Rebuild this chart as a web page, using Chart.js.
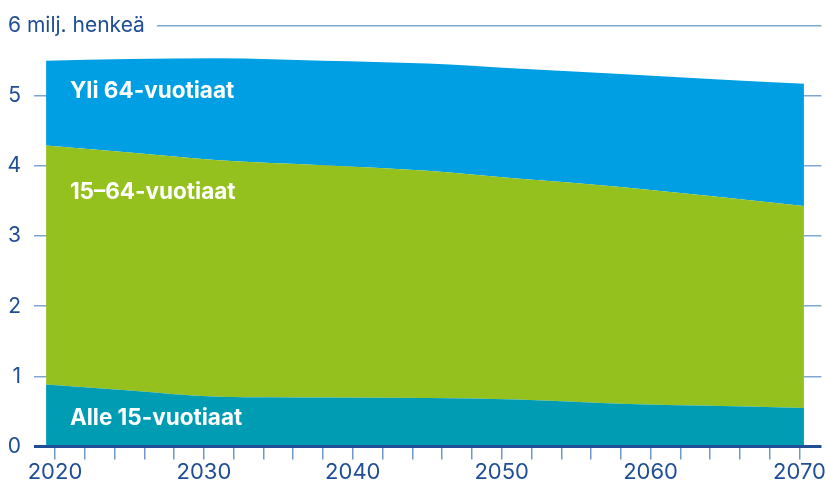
<!DOCTYPE html>
<html>
<head>
<meta charset="utf-8">
<script src="https://cdn.jsdelivr.net/npm/chart.js@4/dist/chart.umd.min.js"></script>
<style>
  html, body { margin: 0; padding: 0; background: #fff; }
  #wrap { width: 826px; height: 488px; position: relative; }
</style>
</head>
<body>
<div id="wrap"><canvas id="vaestoChart"></canvas></div>
<script>
// Väestö ikäryhmittäin, milj. henkeä (luettu kuvasta)
const vuodet = [2019.4, 2025, 2031, 2038, 2045, 2051, 2058, 2064, 2070.3];
const alle15 = [0.885, 0.80, 0.71, 0.70, 0.69, 0.67, 0.61, 0.58, 0.55];
const tyoikaiset = [3.405, 3.39, 3.37, 3.31, 3.24, 3.15, 3.09, 2.99, 2.88];
const yli64 = [1.21, 1.335, 1.455, 1.49, 1.53, 1.57, 1.61, 1.67, 1.74];

const sarjaNimet = ['Alle 15-vuotiaat', '15–64-vuotiaat', 'Yli 64-vuotiaat'];
const xTicks = [2020, 2022, 2024, 2026, 2028, 2030, 2032, 2034, 2036, 2038, 2040, 2042, 2044, 2046, 2048,
                2050, 2052, 2054, 2056, 2058, 2060, 2062, 2064, 2066, 2068, 2070];
const yTicks = [0, 1, 2, 3, 4, 5, 6];
const yksikko = '6 milj. henkeä';

const tummaSininen = '#1f4e96';
const fontti = 'Inter, "Noto Sans", sans-serif';

function pisteet(arvot) {
    return vuodet.map((v, i) => ({ x: v, y: arvot[i] }));
}

// sarjojen nimet alueiden sisään, y-akselin yksikkö ja perusviiva
const tekstit = {
    id: 'tekstit',
    beforeDatasetsDraw(chart) {
        const ctx = chart.ctx;
        const y = chart.scales.y;
        ctx.save();
        ctx.font = '21px ' + fontti;
        const w = ctx.measureText(yksikko).width;
        ctx.fillStyle = '#fff';
        ctx.fillRect(0, y.getPixelForValue(6) - 6, 8 + w + 12, 12);
        ctx.fillStyle = tummaSininen;
        ctx.textAlign = 'left';
        ctx.textBaseline = 'middle';
        ctx.fillText(yksikko, 8, y.getPixelForValue(6));
        ctx.restore();
    },
    afterDatasetsDraw(chart) {
        const ctx = chart.ctx;
        const x = chart.scales.x;
        const y = chart.scales.y;
        const area = chart.chartArea;
        ctx.save();
        // perusviiva
        ctx.strokeStyle = tummaSininen;
        ctx.lineWidth = 3;
        ctx.beginPath();
        ctx.moveTo(area.left, y.getPixelForValue(0));
        ctx.lineTo(area.right, y.getPixelForValue(0));
        ctx.stroke();

        const paikat = [0.40, 3.62, 5.06];
        ctx.font = 'bold 22.5px ' + fontti;
        ctx.fillStyle = '#fff';
        ctx.textAlign = 'left';
        ctx.textBaseline = 'middle';
        sarjaNimet.forEach((n, i) => {
            ctx.fillText(n, x.getPixelForValue(2021), y.getPixelForValue(paikat[i]));
        });
        ctx.restore();
    }
};

new Chart(document.getElementById('vaestoChart').getContext('2d'), {
    type: 'line',
    data: {
        datasets: [
            { label: sarjaNimet[0], data: pisteet(alle15), backgroundColor: '#009cb4', fill: 'origin' },
            { label: sarjaNimet[1], data: pisteet(tyoikaiset), backgroundColor: '#95c11f', fill: '-1' },
            { label: sarjaNimet[2], data: pisteet(yli64), backgroundColor: '#009fe3', fill: '-1' }
        ]
    },
    options: {
        responsive: true,
        maintainAspectRatio: false,
        animation: false,
        layout: { padding: { top: 23, right: 3, left: 0, bottom: 0 } },
        elements: {
            line: { borderWidth: 0, tension: 0.25, cubicInterpolationMode: 'monotone' },
            point: { radius: 0 }
        },
        plugins: {
            legend: { display: false },
            tooltip: { enabled: false }
        },
        scales: {
            x: {
                type: 'linear',
                min: 2018.59,
                max: 2071.47,
                afterBuildTicks: (axis) => { axis.ticks = xTicks.map(v => ({ value: v })); },
                afterFit: (axis) => { axis.height = 41.5; },
                grid: { drawOnChartArea: false, drawTicks: true, tickLength: 13, color: '#6f97cb', lineWidth: 1.5 },
                border: { display: false },
                ticks: {
                    autoSkip: false,
                    maxRotation: 0,
                    padding: 0,
                    color: tummaSininen,
                    font: { family: fontti, size: 22 },
                    callback: (v) => (v % 10 === 0 ? String(v) : '')
                }
            },
            y: {
                stacked: true,
                min: 0,
                max: 6,
                afterBuildTicks: (axis) => { axis.ticks = yTicks.map(v => ({ value: v })); },
                afterFit: (axis) => { axis.width = 34; },
                grid: { drawTicks: false, color: '#7fa6d2', lineWidth: 1.5 },
                border: { display: false },
                ticks: {
                    padding: 13,
                    color: tummaSininen,
                    font: { family: fontti, size: 21 },
                    callback: (v) => (v === 6 ? '' : String(v))
                }
            }
        }
    },
    plugins: [tekstit]
});
</script>
</body>
</html>
